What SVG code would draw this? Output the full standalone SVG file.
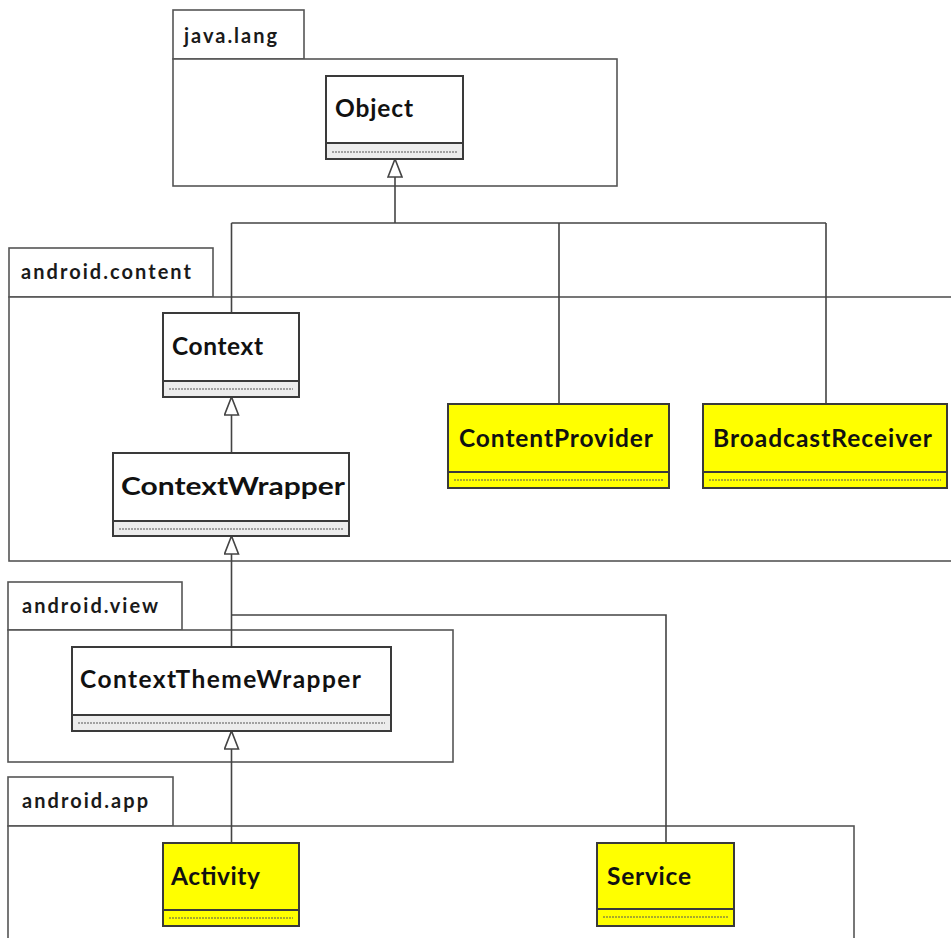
<svg xmlns="http://www.w3.org/2000/svg" width="951" height="938" viewBox="0 0 951 938">
  <style>
    .pkg { fill: #ffffff; stroke: #555555; stroke-width: 1.6; }
    .pkg-label { font-family: Lato, "Liberation Sans", sans-serif; font-weight: bold; font-size: 20px; fill: #1a1a1a; }
    .cls { stroke: #3a3a3a; stroke-width: 2; }
    .plain { fill: #ffffff; }
    .plain-ops { fill: #ececec; }
    .hl { fill: #ffff00; }
    .sep { stroke: #3a3a3a; stroke-width: 2; fill: none; }
    .ops-line { stroke: #555555; stroke-width: 1; stroke-dasharray: 2 1; fill: none; }
    .cls-name { font-family: Lato, "Liberation Sans", sans-serif; font-weight: bold; font-size: 24.5px; fill: #111111; }
    .conn { stroke: #444444; stroke-width: 1.6; fill: none; }
  </style>
  <defs>
    <marker id="inherit" viewBox="0 0 20 16" refX="19" refY="8" markerWidth="20" markerHeight="16" markerUnits="userSpaceOnUse" orient="auto">
      <path d="M1 1 L19 8 L1 15 Z" fill="#ffffff" stroke="#444444" stroke-width="1.6"/>
    </marker>
  </defs>

  <rect width="951" height="938" fill="#ffffff"/>

  <!-- packages -->
  <g id="pkg-java-lang">
    <rect class="pkg" x="173" y="10" width="131" height="49"/>
    <rect class="pkg" x="173" y="59" width="444" height="127"/>
    <text class="pkg-label" x="184" y="43" textLength="93">java.lang</text>
  </g>
  <g id="pkg-android-content">
    <rect class="pkg" x="9" y="248" width="204" height="49"/>
    <rect class="pkg" x="9" y="297" width="960" height="264"/>
    <text class="pkg-label" x="21" y="279" textLength="170">android.content</text>
  </g>
  <g id="pkg-android-view">
    <rect class="pkg" x="8" y="582" width="174" height="48"/>
    <rect class="pkg" x="8" y="630" width="445" height="132"/>
    <text class="pkg-label" x="22" y="613" textLength="136">android.view</text>
  </g>
  <g id="pkg-android-app">
    <rect class="pkg" x="8" y="777" width="165" height="49"/>
    <rect class="pkg" x="8" y="826" width="846" height="130"/>
    <text class="pkg-label" x="22" y="808" textLength="126">android.app</text>
  </g>

  <!-- connectors -->
  <g id="connectors">
    <path class="conn" d="M231.5 223 L231.5 313 M559 223 L559 404 M826 223 L826 404 M231.5 223 L826 223"/>
    <path class="conn" d="M395 223 L395 159" marker-end="url(#inherit)"/>
    <path class="conn" d="M231.5 453 L231.5 397" marker-end="url(#inherit)"/>
    <path class="conn" d="M231.5 647 L231.5 536" marker-end="url(#inherit)"/>
    <path class="conn" d="M231.5 615 L666 615 L666 843"/>
    <path class="conn" d="M231.5 843 L231.5 731" marker-end="url(#inherit)"/>
  </g>

  <!-- classes -->
  <g id="cls-object">
    <rect class="cls plain" x="326" y="76" width="137" height="83"/>
    <rect class="plain-ops" x="327" y="144" width="135" height="14"/>
    <line class="sep" x1="326" y1="143" x2="463" y2="143"/>
    <line class="ops-line" x1="332" y1="152" x2="457" y2="152"/>
    <text class="cls-name" x="335" y="117" textLength="78">Object</text>
  </g>
  <g id="cls-context">
    <rect class="cls plain" x="163" y="313" width="136" height="84"/>
    <rect class="plain-ops" x="164" y="382" width="134" height="14"/>
    <line class="sep" x1="163" y1="381" x2="299" y2="381"/>
    <line class="ops-line" x1="169" y1="389" x2="293" y2="389"/>
    <text class="cls-name" x="172" y="355" textLength="91">Context</text>
  </g>
  <g id="cls-context-wrapper">
    <rect class="cls plain" x="113" y="453" width="236" height="83"/>
    <rect class="plain-ops" x="114" y="522" width="234" height="13"/>
    <line class="sep" x1="113" y1="521" x2="349" y2="521"/>
    <line class="ops-line" x1="119" y1="529" x2="343" y2="529"/>
    <text class="cls-name" x="121" y="495" textLength="224" lengthAdjust="spacingAndGlyphs">ContextWrapper</text>
  </g>
  <g id="cls-content-provider">
    <rect class="cls hl" x="448" y="404" width="221" height="84"/>
    <line class="sep" x1="448" y1="472" x2="669" y2="472"/>
    <line class="ops-line" x1="454" y1="480" x2="663" y2="480"/>
    <text class="cls-name" x="459" y="447" textLength="194">ContentProvider</text>
  </g>
  <g id="cls-broadcast-receiver">
    <rect class="cls hl" x="703" y="404" width="244" height="84"/>
    <line class="sep" x1="703" y1="472" x2="947" y2="472"/>
    <line class="ops-line" x1="709" y1="480" x2="941" y2="480"/>
    <text class="cls-name" x="713" y="447" textLength="219">BroadcastReceiver</text>
  </g>
  <g id="cls-context-theme-wrapper">
    <rect class="cls plain" x="72" y="647" width="319" height="84"/>
    <rect class="plain-ops" x="73" y="716" width="317" height="14"/>
    <line class="sep" x1="72" y1="715" x2="391" y2="715"/>
    <line class="ops-line" x1="78" y1="723" x2="385" y2="723"/>
    <text class="cls-name" x="80" y="688" textLength="281">ContextThemeWrapper</text>
  </g>
  <g id="cls-activity">
    <rect class="cls hl" x="163" y="843" width="136" height="83"/>
    <line class="sep" x1="163" y1="910" x2="299" y2="910"/>
    <line class="ops-line" x1="169" y1="918" x2="293" y2="918"/>
    <text class="cls-name" x="171" y="885" textLength="89">Activity</text>
  </g>
  <g id="cls-service">
    <rect class="cls hl" x="597" y="843" width="137" height="83"/>
    <line class="sep" x1="597" y1="909" x2="734" y2="909"/>
    <line class="ops-line" x1="603" y1="917" x2="728" y2="917"/>
    <text class="cls-name" x="607" y="885" textLength="84">Service</text>
  </g>
</svg>
